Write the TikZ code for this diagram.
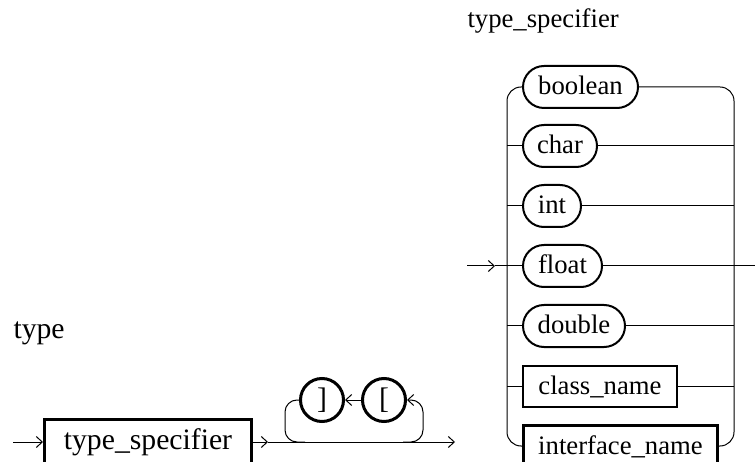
\documentclass[tikz,border=0pt]{standalone}
\usepackage{fontspec}
\setmainfont{Liberation Serif}
\usetikzlibrary{arrows.meta}
\newcommand\rsize{\fontsize{26.7pt}{32pt}\selectfont}
\newcommand\lsize{\fontsize{29.7pt}{36pt}\selectfont}
\tikzset{
  term/.style={draw, line width=2pt, rectangle, rounded corners=21pt,
    minimum height=42pt, inner xsep=0pt, inner ysep=0pt, font=\rsize,
    text height=21pt, text depth=5pt, anchor=west},
  nonterm/.style={draw, line width=2pt, rectangle, minimum height=41pt,
    inner xsep=0pt, inner ysep=0pt, font=\rsize,
    text height=21pt, text depth=5pt, anchor=west},
  tok/.style={draw, circle, line width=3pt, minimum size=43pt,
    inner sep=0pt, font=\lsize},
  label/.style={anchor=base west, inner sep=0pt},
  rail/.style={line width=1pt},
}
\begin{document}
\begin{tikzpicture}[x=1pt, y=-1pt, line width=1pt,
  >={Straight Barb[length=6pt,width=11pt]}]
\useasboundingbox (0,0) rectangle (755,462);

% ---- type_specifier: choice of seven alternatives ----
\node[label, font=\rsize] (tstitle) at (467,28) {type\_specifier};

\node[term, minimum width=115pt] (boolean) at (522,87)  {boolean};
\node[term, minimum width=74pt]  (char)    at (522,146) {char};
\node[term, minimum width=58pt]  (int)     at (522,206) {int};
\node[term, minimum width=79pt]  (float)   at (522,266) {float};
\node[term, minimum width=102pt] (double)  at (522,326) {double};
\node[nonterm, minimum width=154pt] (classname) at (522,386) {class\_name};
\node[nonterm, minimum width=194pt, line width=3pt, minimum height=41pt]
  (iface) at (522,446) {interface\_name};

\coordinate (railL) at (507,0);
\coordinate (railR) at (734,0);
\coordinate (tsin)  at (467,266);
\coordinate (tstip) at (495,266);
\coordinate (tsout) at (762,266);

% outer rails with rounded corners
\draw[rail, rounded corners=14pt] (boolean.west) -- (boolean.west -| railL)
  -- (iface.west -| railL) -- (iface.west);
\draw[rail, rounded corners=14pt] (boolean.east) -- (boolean.east -| railR)
  -- (iface.east -| railR) -- (iface.east);

% inner branches
\foreach \n in {char,int,double,classname}{
  \draw[rail] (\n.west -| railL) -- (\n.west);
  \draw[rail] (\n.east) -- (\n.east -| railR);
}

% entry and exit through the middle branch
\draw[rail,->] (tsin) -- (tstip);
\draw[rail] (tstip) -- (float.west);
\draw[rail] (float.east) -- (tsout);

% ---- type: type_specifier followed by any number of [ ] ----
\node[label, font=\lsize] (typetitle) at (13,338) {type};

\node[draw, rectangle, line width=3pt, minimum width=207pt, minimum height=45pt,
  inner sep=0pt, font=\lsize, text height=21pt, text depth=6pt]
  (spec) at (148,442) {type\_specifier};

\node[tok] (rb) at (322,400) {]};
\node[tok] (lb) at (384,400) {[};

\coordinate (tstart) at (13,442);
\coordinate (tmid)   at (268,442);
\coordinate (tend)   at (455,442);
\coordinate (loopL)  at (285,442);
\coordinate (loopR)  at (423,442);

\draw[rail,->] (tstart) -- (spec.west);
\draw[rail,->] (spec.east) -- (tmid);
\draw[rail,->] (tmid) -- (tend);

% repetition loop
\draw[rail,->,rounded corners=12pt] ([xshift=-20pt]loopR) -- (loopR) |- (lb.east);
\draw[rail,->] (lb.west) -- (rb.east);
\draw[rail,rounded corners=12pt] (rb.west) -| (loopL) -- ([xshift=20pt]loopL);
\end{tikzpicture}
\end{document}
